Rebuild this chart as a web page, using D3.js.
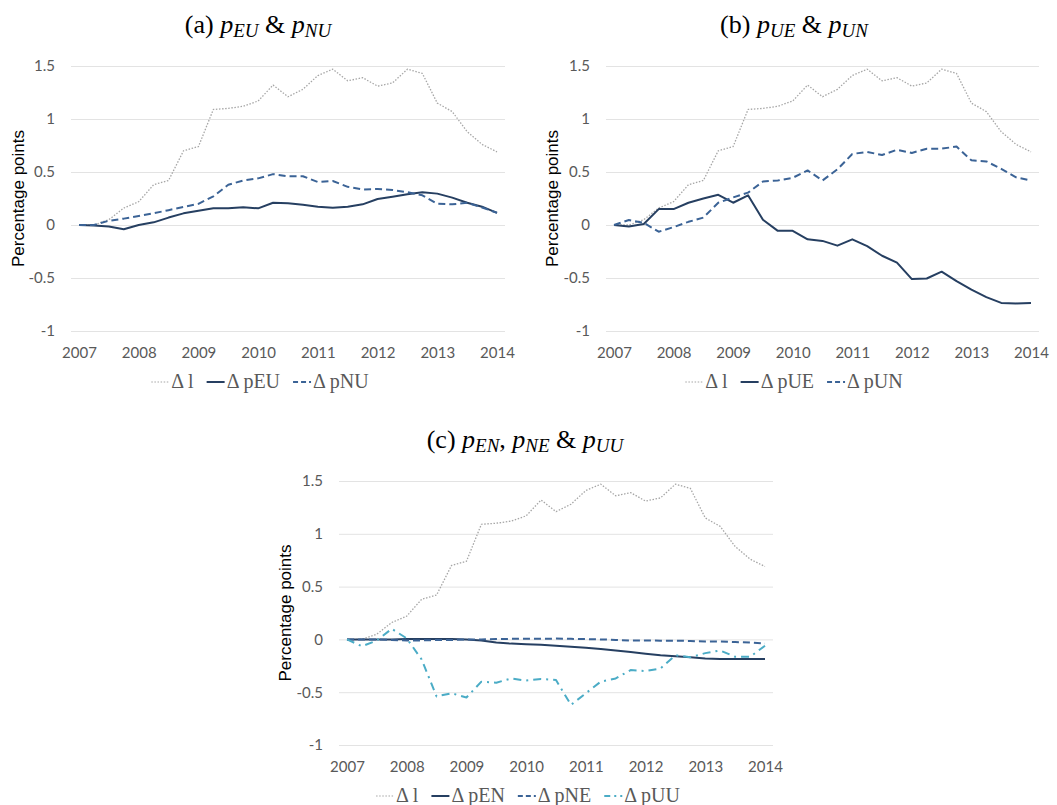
<!DOCTYPE html>
<html>
<head>
<meta charset="utf-8">
<script src="https://cdn.jsdelivr.net/npm/d3@7"></script>
<style>
  body { margin: 0; background: #fff; }
  svg { display: block; }
</style>
</head>
<body>
<svg width="1057" height="805"></svg>
<script>
// quarterly changes since 2007Q1, percentage points
const years = [2007, 2008, 2009, 2010, 2011, 2012, 2013, 2014]
const yTicks = [-1, -0.5, 0, 0.5, 1, 1.5]

const dL   = [0, 0, 0.05, 0.16, 0.22, 0.38, 0.42, 0.70, 0.74, 1.09, 1.10, 1.12, 1.17, 1.32, 1.21, 1.28, 1.41, 1.47, 1.36, 1.39, 1.31, 1.34, 1.47, 1.43, 1.15, 1.07, 0.88, 0.76, 0.69]
const dpEU = [0, -0.005, -0.015, -0.04, 0, 0.025, 0.07, 0.11, 0.135, 0.157, 0.157, 0.167, 0.157, 0.21, 0.205, 0.19, 0.173, 0.163, 0.173, 0.195, 0.245, 0.267, 0.29, 0.308, 0.296, 0.258, 0.21, 0.173, 0.115]
const dpNU = [0, 0, 0.04, 0.06, 0.085, 0.11, 0.14, 0.17, 0.2, 0.27, 0.38, 0.42, 0.44, 0.48, 0.46, 0.46, 0.405, 0.415, 0.36, 0.335, 0.34, 0.33, 0.31, 0.28, 0.2, 0.195, 0.21, 0.165, 0.115]
const dpUE = [0, -0.015, 0.01, 0.15, 0.15, 0.21, 0.25, 0.285, 0.21, 0.28, 0.05, -0.055, -0.055, -0.135, -0.15, -0.195, -0.135, -0.2, -0.29, -0.355, -0.51, -0.505, -0.44, -0.53, -0.61, -0.68, -0.735, -0.74, -0.735]
const dpUN = [0, 0.047, 0.02, -0.063, -0.02, 0.03, 0.07, 0.21, 0.26, 0.305, 0.41, 0.42, 0.445, 0.515, 0.42, 0.525, 0.67, 0.69, 0.66, 0.71, 0.68, 0.72, 0.72, 0.74, 0.61, 0.60, 0.53, 0.45, 0.42]
const dpEN = [0, 0, 0, 0, 0.003, 0.003, 0.003, 0.003, 0, -0.01, -0.03, -0.04, -0.045, -0.05, -0.06, -0.07, -0.08, -0.09, -0.105, -0.12, -0.135, -0.15, -0.16, -0.17, -0.18, -0.185, -0.185, -0.185, -0.185]
const dpNE = [0, 0, 0, -0.005, -0.01, -0.01, -0.005, -0.005, 0, 0, 0.003, 0.005, 0.005, 0.005, 0.008, 0.005, 0.003, 0, -0.005, -0.01, -0.01, -0.012, -0.012, -0.015, -0.02, -0.02, -0.025, -0.03, -0.04]
const dpUU = [0, -0.065, -0.01, 0.10, 0.01, -0.19, -0.54, -0.51, -0.55, -0.40, -0.41, -0.37, -0.39, -0.375, -0.385, -0.62, -0.51, -0.40, -0.37, -0.29, -0.30, -0.275, -0.15, -0.17, -0.13, -0.105, -0.165, -0.165, -0.06]

const svg = d3.select('svg')

const styles = {
    dotted:  {stroke: '#a6a6a6', width: 1.3, dash: '1.5,1.6'},
    solid:   {stroke: '#263f61', width: 2,   dash: null},
    dashed:  {stroke: '#3b6396', width: 2,   dash: '7,4'},
    dashdot: {stroke: '#4bacc6', width: 2,   dash: '8,5,2,5'}
}

const drawPanel = (p) => {
    const g = svg.append('g')
    const x = d3.scaleLinear().domain([2007, 2014]).range([p.left + 8, p.right - 8])
    const y = d3.scaleLinear().domain([-1, 1.5]).range([p.bottom, p.top])

    // grid + y labels
    const yAxis = d3.axisLeft(y)
        .tickValues(yTicks)
        .tickSize(-(p.right - p.left))
        .tickPadding(16)
        .tickFormat(d => String(d))
    const ya = g.append('g')
        .attr('transform', 'translate(' + p.left + ',0)')
        .call(yAxis)
    ya.select('.domain').remove()
    ya.selectAll('line').attr('stroke', '#e3e3e3').attr('stroke-width', 1)
    ya.selectAll('text')
        .attr('fill', '#595959')
        .style('font-family', 'Lato, "Open Sans", sans-serif')
        .style('font-size', '15px')

    const xAxis = d3.axisBottom(x)
        .tickValues(years)
        .tickSize(0)
        .tickPadding(16)
        .tickFormat(d3.format('d'))
    const xa = g.append('g')
        .attr('transform', 'translate(0,' + p.bottom + ')')
        .call(xAxis)
    xa.select('.domain').remove()
    xa.selectAll('text')
        .attr('fill', '#595959')
        .style('font-family', 'Lato, "Open Sans", sans-serif')
        .style('font-size', '15px')

    // axis title
    g.append('text')
        .attr('transform', 'translate(' + p.axisTitleX + ',' + ((p.top + p.bottom) / 2) + ') rotate(-90)')
        .attr('text-anchor', 'middle')
        .attr('dy', '0.35em')
        .style('font-family', '"Liberation Sans", Arial, sans-serif')
        .style('font-size', '17px')
        .attr('fill', '#000')
        .text('Percentage points')

    // lines
    const line = d3.line()
        .x((d, i) => x(2007 + i / 4))
        .y(d => y(d))
    p.series.forEach(s => {
        const st = styles[s.style]
        g.append('path')
            .datum(s.values)
            .attr('d', line)
            .attr('fill', 'none')
            .attr('stroke', st.stroke)
            .attr('stroke-width', st.width)
            .attr('stroke-dasharray', st.dash)
            .attr('stroke-linejoin', 'round')
    })

    // title
    const t = g.append('text')
        .attr('x', p.titleX)
        .attr('y', p.titleY)
        .attr('text-anchor', 'middle')
        .style('font-family', '"Liberation Serif", "Times New Roman", serif')
        .style('font-size', '26px')
        .attr('fill', '#000')
    p.title.forEach(part => {
        const ts = t.append('tspan').text(part.text)
        if (part.italic) ts.style('font-style', 'italic')
        if (part.sub) {
            ts.style('font-size', '19px').attr('dy', 4)
        } else if (part.up) {
            ts.attr('dy', -4)
        }
    })

    // legend
    const lg = g.append('g')
    let cx = 0
    p.series.forEach((s, k) => {
        const st = styles[s.style]
        lg.append('line')
            .attr('x1', cx).attr('x2', cx + 18)
            .attr('y1', -6).attr('y2', -6)
            .attr('stroke', st.stroke)
            .attr('stroke-width', s.style === 'dotted' ? 1.2 : 2)
            .attr('stroke-dasharray', s.style === 'dashdot' ? '6,4,2,4' : (s.style === 'dashed' ? '5,3' : st.dash))
        const tx = lg.append('text')
            .attr('x', cx + 20)
            .attr('y', 0)
            .style('font-family', '"Liberation Serif", "Times New Roman", serif')
            .style('font-size', '20px')
            .attr('fill', '#595959')
            .text(s.name)
        cx += 20 + tx.node().getComputedTextLength() + 13
    })
    const total = cx - 13
    lg.attr('transform', 'translate(' + (p.legendX - total / 2) + ',' + p.legendY + ')')
}

drawPanel({
    left: 71, right: 505, top: 66, bottom: 331, axisTitleX: 18,
    titleX: 258, titleY: 33,
    title: [{text: '(a) '}, {text: 'p', italic: true}, {text: 'EU', italic: true, sub: true}, {text: ' & ', up: true}, {text: 'p', italic: true}, {text: 'NU', italic: true, sub: true}],
    legendX: 260, legendY: 388,
    series: [
        {name: 'Δ l', values: dL, style: 'dotted'},
        {name: 'Δ pEU', values: dpEU, style: 'solid'},
        {name: 'Δ pNU', values: dpNU, style: 'dashed'}
    ]
})

drawPanel({
    left: 606, right: 1039, top: 66, bottom: 331, axisTitleX: 552,
    titleX: 794, titleY: 33,
    title: [{text: '(b) '}, {text: 'p', italic: true}, {text: 'UE', italic: true, sub: true}, {text: ' & ', up: true}, {text: 'p', italic: true}, {text: 'UN', italic: true, sub: true}],
    legendX: 794, legendY: 388,
    series: [
        {name: 'Δ l', values: dL, style: 'dotted'},
        {name: 'Δ pUE', values: dpUE, style: 'solid'},
        {name: 'Δ pUN', values: dpUN, style: 'dashed'}
    ]
})

drawPanel({
    left: 339, right: 773, top: 481, bottom: 745, axisTitleX: 285,
    titleX: 525, titleY: 448,
    title: [{text: '(c) '}, {text: 'p', italic: true}, {text: 'EN', italic: true, sub: true}, {text: ', ', up: true}, {text: 'p', italic: true}, {text: 'NE', italic: true, sub: true}, {text: ' & ', up: true}, {text: 'p', italic: true}, {text: 'UU', italic: true, sub: true}],
    legendX: 528, legendY: 802,
    series: [
        {name: 'Δ l', values: dL, style: 'dotted'},
        {name: 'Δ pEN', values: dpEN, style: 'solid'},
        {name: 'Δ pNE', values: dpNE, style: 'dashed'},
        {name: 'Δ pUU', values: dpUU, style: 'dashdot'}
    ]
})
</script>
</body>
</html>
